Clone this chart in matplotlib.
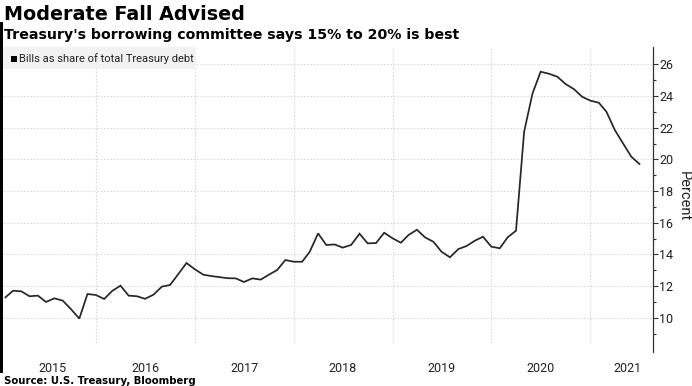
import pandas as pd
import numpy as np
import matplotlib.pyplot as plt
from matplotlib.patches import Rectangle

# monthly share of bills in total Treasury debt, Feb 2015 .. Jul 2021
start_month = '2015-02-01'
bills_2015 = [11.29, 11.71, 11.67, 11.36, 11.40, 11.00, 11.23, 11.08, 10.55, 9.95, 11.50]
bills_2016 = [11.44, 11.19, 11.69, 12.03, 11.40, 11.36, 11.20, 11.46, 11.97, 12.07, 12.77, 13.46]
bills_2017 = [13.06, 12.72, 12.64, 12.57, 12.50, 12.49, 12.26, 12.49, 12.41, 12.72, 13.02, 13.65]
bills_2018 = [13.54, 13.54, 14.17, 15.33, 14.60, 14.63, 14.43, 14.60, 15.31, 14.70, 14.72, 15.37]
bills_2019 = [15.02, 14.74, 15.23, 15.56, 15.08, 14.80, 14.17, 13.82, 14.34, 14.53, 14.87, 15.12]
bills_2020 = [14.49, 14.39, 15.08, 15.50, 21.75, 24.17, 25.54, 25.41, 25.22, 24.76, 24.44, 23.96]
bills_2021 = [23.71, 23.58, 23.01, 21.86, 21.02, 20.17, 19.71]

year_labels = ['2015', '2016', '2017', '2018', '2019', '2020', '2021']
year_label_dates = ['2015-07-26', '2016-07-02', '2017-07-02', '2018-07-02', '2019-07-02', '2020-07-02', '2021-05-17']
y_ticks = [10, 12, 14, 16, 18, 20, 22, 24, 26]

values = bills_2015 + bills_2016 + bills_2017 + bills_2018 + bills_2019 + bills_2020 + bills_2021
df = pd.DataFrame({'share': values}, index=pd.date_range(start_month, periods=len(values), freq='MS'))

W, H = 692, 386
fig = plt.figure(figsize=(W / 100, H / 100), dpi=100)
ax = fig.add_axes([0, (H - 352) / H, 653 / W, (352 - 47) / H])

narrow = ['Roboto', 'DejaVu Sans']

ax.plot(df.index, df['share'], color='#262626', lw=1.25, solid_joinstyle='miter')

ax.set_xlim(pd.Timestamp('2015-01-12'), pd.Timestamp('2021-08-20'))
ax.set_ylim(7.84, 27.1)

# grid
for yv in y_ticks:
    ax.axhline(yv, color='#d9d9d9', lw=0.8, ls=(0, (1.5, 1.5)), zorder=0)
for yr in range(2016, 2022):
    ax.vlines(pd.Timestamp(f'{yr}-01-01'), 8.41, 27.1, color='#d9d9d9', lw=0.8,
              ls=(0, (1.5, 1.5)), zorder=0)

# axes styling
for s in ['left', 'top', 'bottom']:
    ax.spines[s].set_visible(False)
ax.spines['right'].set_color('#333333')
ax.spines['right'].set_linewidth(0.9)
ax.yaxis.tick_right()
ax.set_yticks(y_ticks)
ax.set_yticks(np.arange(9, 27, 2), minor=True)
ax.tick_params(axis='y', which='major', length=3.5, width=0.8, pad=1, color='#333333',
               labelsize=9, labelcolor='#222222')
ax.tick_params(axis='y', which='minor', length=2, width=0.8, color='#333333')
for lab in ax.get_yticklabels():
    lab.set_family(narrow)
ax.set_xticks([pd.Timestamp(d) for d in year_label_dates])
ax.set_xticklabels(year_labels, family=narrow, fontsize=9, color='#222222')
ax.tick_params(axis='x', length=0, pad=7.5)
ax.patch.set_alpha(0)

fig.text(683.5 / W, 1 - 196 / H, 'Percent', rotation=270, family=narrow, fontsize=10.5,
         ha='center', va='center', color='#222222')

# legend box
fig.patches.append(Rectangle((3 / W, 1 - 69 / H), 193 / W, 22 / H, transform=fig.transFigure,
                             facecolor='#f2f2f2', edgecolor='none', zorder=1))
fig.patches.append(Rectangle((11 / W, 1 - 62 / H), 6 / W, 6 / H, transform=fig.transFigure,
                             facecolor='black', edgecolor='none', zorder=2))
fig.text(19 / W, 1 - 58.5 / H, 'Bills as share of total Treasury debt', family=narrow,
         fontsize=8, va='center', ha='left', color='#222222')

# left border strip
fig.patches.append(Rectangle((0, 1 - 373 / H), 3 / W, (373 - 22) / H, transform=fig.transFigure,
                             facecolor='black', edgecolor='none'))

fig.text(4 / W, 1 - 20.5 / H, 'Moderate Fall Advised', fontsize=13.8, fontweight='bold',
         va='baseline', ha='left', color='black')
fig.text(4 / W, 1 - 39.5 / H, "Treasury's borrowing committee says 15% to 20% is best",
         fontsize=10.2, fontweight='bold', va='baseline', ha='left', color='black')
fig.text(4 / W, 1 - 384 / H, 'Source: U.S. Treasury, Bloomberg', fontsize=7.3,
         fontweight='bold', va='baseline', ha='left', color='black')

plt.savefig('out.png', dpi=100)
